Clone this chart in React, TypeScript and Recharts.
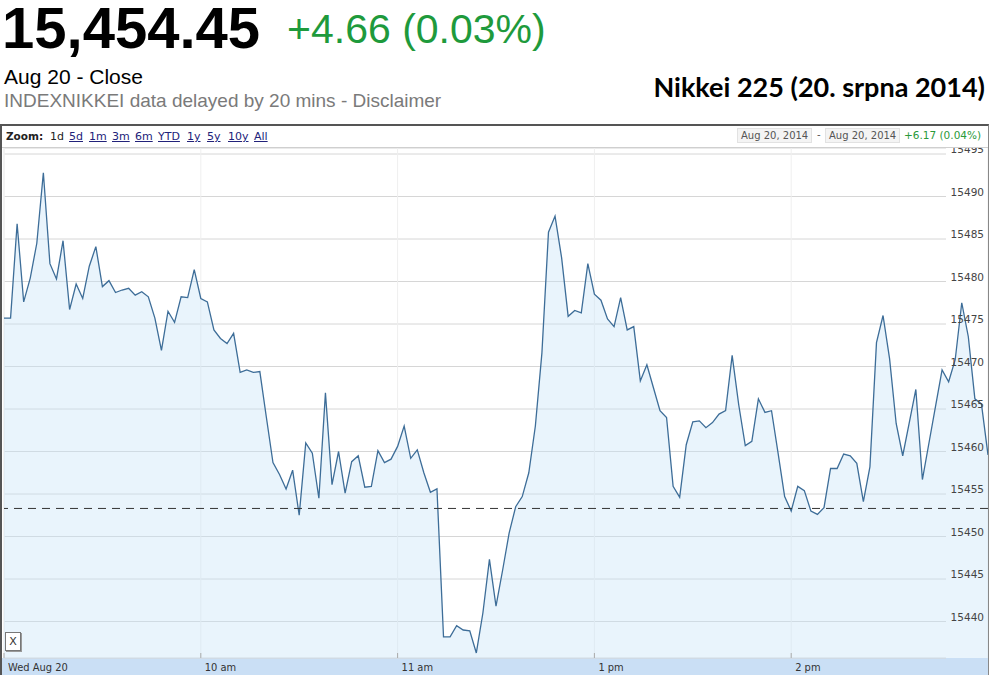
import React from "react";
import { AreaChart, Area, XAxis, YAxis, CartesianGrid, ReferenceLine } from "recharts";

// Nikkei 225 intraday, 20 Aug 2014, 2-minute points (lunch break removed)
const MORNING_PRICES = [
  15475.7, 15475.7, 15486.8, 15477.6, 15480.4, 15484.5, 15492.8, 15482.1, 15480.3, 15484.8,
  15476.7, 15479.7, 15478.0, 15481.8, 15484.1, 15479.4, 15480.1, 15478.7, 15479.0, 15479.2,
  15478.4, 15478.8, 15478.2, 15475.7, 15471.9, 15476.5, 15475.2, 15478.2, 15478.1, 15481.4,
  15478.0, 15477.6, 15474.3, 15473.3, 15472.7, 15473.9, 15469.3, 15469.6, 15469.3, 15469.4,
  15464.0, 15458.7, 15457.3, 15455.6, 15457.8, 15452.5, 15461.0, 15459.8, 15454.5, 15466.9,
  15456.1, 15460.0, 15455.1, 15458.8, 15459.5, 15455.8, 15455.9, 15460.1, 15458.7, 15459.1,
  15460.6, 15463.0, 15459.2, 15460.2, 15457.5, 15455.2, 15455.6, 15438.2, 15438.2, 15439.5,
  15439.0, 15438.9, 15436.3, 15441.0, 15447.3,
];

const AFTERNOON_PRICES = [
  15441.8, 15446.0, 15450.4, 15453.5, 15454.7, 15457.5, 15463.0, 15471.6, 15485.8, 15487.7,
  15482.8, 15475.9, 15476.6, 15476.3, 15482.1, 15478.5, 15477.8, 15475.6, 15474.7, 15478.1,
  15474.3, 15474.7, 15468.3, 15470.2, 15467.5, 15464.8, 15464.0, 15455.9, 15454.6, 15460.8,
  15463.5, 15463.6, 15462.8, 15463.4, 15464.4, 15464.8, 15471.3, 15465.5, 15460.7, 15461.2,
  15466.2, 15464.6, 15464.8, 15459.8, 15454.7, 15453.0, 15455.9, 15455.4, 15453.0, 15452.6,
  15453.4, 15458.0, 15458.0, 15459.7, 15459.5, 15458.6, 15454.1, 15458.2, 15472.8, 15476.0,
  15470.9, 15463.3, 15459.5, 15463.4, 15467.3, 15456.7, 15461.0, 15465.3, 15469.6, 15468.2,
  15470.8, 15477.5, 15473.5, 15466.2, 15465.6, 15459.6,
];

const PREV_CLOSE = 15453.3;

const X_TICKS = ["09:00", "10:00", "11:00", "13:00", "14:00"];
const X_TICK_LABELS = ["Wed Aug 20", "10 am", "11 am", "1 pm", "2 pm"];
const Y_TICKS = [15440, 15445, 15450, 15455, 15460, 15465, 15470, 15475, 15480, 15485, 15490, 15495];

const ZOOM_LINKS = ["5d", "1m", "3m", "6m", "YTD", "1y", "5y", "10y", "All"];
const ZOOM_X = [69, 89, 112, 135, 158, 187, 207, 228, 254];

function clock(startMin: number, i: number) {
  const m = startMin + i * 2;
  const h = Math.floor(m / 60);
  const mm = m % 60;
  return `${String(h).padStart(2, "0")}:${String(mm).padStart(2, "0")}`;
}

const data = [
  ...MORNING_PRICES.map((price, i) => ({ time: clock(9 * 60, i), price })),
  ...AFTERNOON_PRICES.map((price, i) => ({ time: clock(12 * 60 + 30, i), price })),
];

const axisFont = "'DejaVu Sans Condensed', 'DejaVu Sans', sans-serif";
const uiFont = "'DejaVu Sans', Verdana, sans-serif";

const XTick = (props: any) => {
  const { x, y, payload } = props;
  const idx = X_TICKS.indexOf(payload.value);
  return (
    <g>
      <line x1={x} x2={x} y1={y - 5} y2={y} stroke="#aaa" />
      <text x={x + 4} y={y + 13} fontSize={11} fill="#333" fontFamily={axisFont}>
        {X_TICK_LABELS[idx]}
      </text>
    </g>
  );
};

const YTick = (props: any) => {
  const { y, payload } = props;
  return (
    <text x={984} y={y - 1} textAnchor="end" fontSize={10.5} fill="#444" fontFamily={uiFont}>
      {payload.value}
    </text>
  );
};

const HLine = (props: any) => {
  const { x1, y1, y2, key } = props;
  return <line key={key} x1={x1} x2={946} y1={y1} y2={y2} stroke="#d6d6d6" strokeWidth={1} />;
};

export default function App() {
  return (
    <div style={{ position: "relative", width: 989, height: 675, background: "#fff", fontFamily: "'Liberation Sans', Arial, sans-serif" }}>
      <style>{`body{margin:0}`}</style>

      <div style={{ position: "absolute", left: 2, top: 3, fontSize: 58, fontWeight: 700, lineHeight: "50px", color: "#000" }}>
        15,454.45
      </div>
      <div style={{ position: "absolute", left: 287, top: 9, fontSize: 41, lineHeight: 1, color: "#1e9a3c" }}>
        +4.66 (0.03%)
      </div>
      <div style={{ position: "absolute", left: 4, top: 66, fontSize: 21, lineHeight: 1, color: "#000" }}>
        Aug 20 - Close
      </div>
      <div style={{ position: "absolute", left: 4, top: 91, fontSize: 19, lineHeight: 1, color: "#7a7a7a" }}>
        INDEXNIKKEI data delayed by 20 mins - Disclaimer
      </div>
      <div style={{ position: "absolute", right: 4, top: 73, fontSize: 27, fontWeight: 700, lineHeight: 1, color: "#000", fontFamily: "Lato, 'Open Sans', sans-serif" }}>
        Nikkei 225 (20. srpna 2014)
      </div>

      {/* x-axis band */}
      <div style={{ position: "absolute", left: 1, top: 658, width: 987, height: 17, background: "#cadff5" }} />

      <div style={{ position: "absolute", left: 0, top: 124 }}>
        <AreaChart width={989} height={551} data={data} margin={{ top: 24, right: 1, bottom: 0, left: 4 }}>
          <CartesianGrid horizontal={HLine} vertical={{ stroke: "#efefef" } as any} stroke="#efefef" />
          <XAxis
            dataKey="time"
            ticks={X_TICKS}
            interval={0}
            height={17}
            axisLine={false}
            tickLine={false}
            tickSize={0}
            tickMargin={0}
            tick={XTick}
          />
          <YAxis
            orientation="right"
            mirror
            width={40}
            domain={[15435.706, 15495.706]}
            ticks={Y_TICKS}
            interval={0}
            allowDataOverflow
            axisLine={false}
            tickLine={false}
            tick={YTick}
          />
          <Area
            type="linear"
            dataKey="price"
            stroke="#3d6d98"
            strokeWidth={1.3}
            fill="#c8e4f8"
            fillOpacity={0.4}
            dot={false}
            activeDot={false}
            isAnimationActive={false}
          />
          <ReferenceLine y={PREV_CLOSE} stroke="#333" strokeDasharray="8 6" strokeWidth={1} />
        </AreaChart>
      </div>

      {/* toolbar */}
      <div style={{ position: "absolute", left: 1, top: 125, width: 987, height: 22, background: "#fff", borderBottom: "1px solid #cfcfcf", fontFamily: uiFont }}>
        <span style={{ position: "absolute", left: 5, top: 5, fontSize: 10.5, fontWeight: 700, color: "#222" }}>Zoom:</span>
        <span style={{ position: "absolute", left: 49, top: 5, fontSize: 11, color: "#222" }}>1d</span>
        {ZOOM_LINKS.map((l, i) => (
          <span key={l} style={{ position: "absolute", left: ZOOM_X[i] - 1, top: 5, fontSize: 11, color: "#22227a", textDecoration: "underline" }}>
            {l}
          </span>
        ))}
        <span style={{ position: "absolute", left: 736, top: 3, fontSize: 10, color: "#555", background: "#f4f4f4", border: "1px solid #e2e2e2", padding: "1px 3px" }}>
          Aug 20, 2014
        </span>
        <span style={{ position: "absolute", left: 816, top: 4, fontSize: 10, color: "#555" }}>-</span>
        <span style={{ position: "absolute", left: 824, top: 3, fontSize: 10, color: "#555", background: "#f4f4f4", border: "1px solid #e2e2e2", padding: "1px 3px" }}>
          Aug 20, 2014
        </span>
        <span style={{ position: "absolute", left: 903, top: 4, fontSize: 10.5, color: "#2a9a3a" }}>+6.17 (0.04%)</span>
      </div>

      {/* X button */}
      <div style={{ position: "absolute", left: 5, top: 632, width: 14, height: 17, border: "1px solid #777", background: "#fff", fontSize: 11, lineHeight: "17px", textAlign: "center", fontFamily: uiFont, color: "#333", boxShadow: "1px 1px 0 #999" }}>
        X
      </div>

      {/* frame */}
      <div style={{ position: "absolute", left: 0, top: 124, width: 989, height: 551, boxSizing: "border-box", borderTop: "2px solid #555", borderLeft: "2px solid #555", borderRight: "1px solid #888", pointerEvents: "none" }} />
    </div>
  );
}
